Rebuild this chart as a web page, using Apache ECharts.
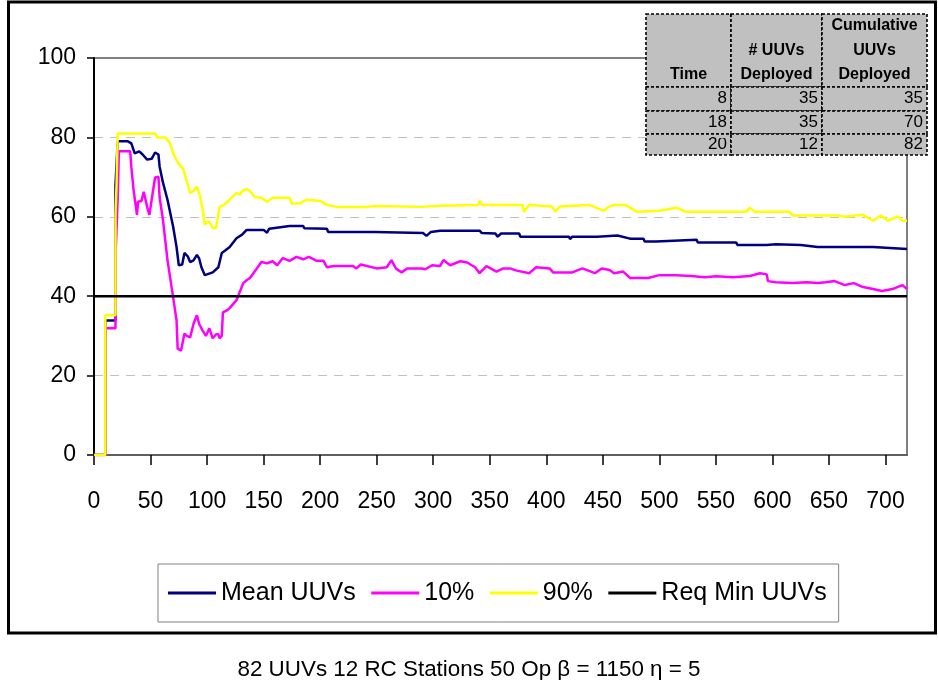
<!DOCTYPE html>
<html>
<head>
<meta charset="utf-8">
<script src="https://cdn.jsdelivr.net/npm/echarts@6.0.0/dist/echarts.min.js"></script>
<style>
html,body{margin:0;padding:0;background:#fff;}
#chart{width:938px;height:680px;}
</style>
</head>
<body>
<div id="chart"></div>
<script>
// ---- data ----
const seriesNames = ['Mean UUVs', '10%', '90%', 'Req Min UUVs'];
const xTicks = [0,50,100,150,200,250,300,350,400,450,500,550,600,650,700];
const yTicks = [0,20,40,60,80,100];

const meanUUVs = [[0,0],[10,0],[10,33.9],[19,33.9],[19,68],[21,79],[30,79],[33,78.5],[36,76],[40,76.5],[43,75.7],[47,74.4],[51,74.6],[54,76.2],[57,75.7],[58,72.7],[61,68.6],[65,64.3],[70,57.5],[73,52.4],[75,47.8],[78,48],[80,50.9],[83,50],[85,48.6],[88,49],[91,50.4],[93,49.5],[95,47.3],[98,45.3],[105,46],[110,47.3],[113,50.9],[116,51.5],[120,52.4],[126,54.6],[131,55.5],[135,56.7],[150,56.7],[151,57.2],[153,56.0],[155,57],[173,57.7],[185,57.7],[186,57.1],[206,57],[207,56.2],[248,56.2],[249,55.9],[291,55.9],[294,55.2],[298,56.2],[306,56.5],[341,56.5],[343,55.9],[355,55.8],[357,55],[360,55.8],[376,55.8],[377,55],[420,55],[421,54.4],[423,55],[445,55],[463,55.3],[464,55],[474,54.5],[486,54.5],[487,53.8],[497,53.8],[498,54.2],[533,54.2],[534,53.5],[568,53.5],[569,52.9],[595,52.9],[603,53.1],[625,52.9],[626,52.4],[640,52.4],[641,52.9],[642,52.4],[689,52.4],[690,51.9],[719,51.9]];

const p10UUVs = [[0,0],[10,0],[10,31.9],[19,31.9],[19,50],[21,65],[22,76.5],[32,76.5],[33,72.7],[35,66.8],[38,60.5],[39,63.8],[42,64],[44,66.3],[47,62.5],[49,60.5],[51,64.3],[54,69.9],[57,70.1],[58,65],[61,59.2],[65,49.1],[70,39.7],[73,33.9],[74,26.8],[77,26.3],[80,30.6],[82,30],[85,29.6],[88,33],[91,35.2],[93,33],[96,31.4],[99,30],[102,31.9],[105,29.4],[108,30.4],[110,30.4],[111,29.4],[113,30],[114,35.9],[118,36.5],[120,37],[126,39],[132,43.3],[135,44],[138,44.6],[144,47],[148,48.6],[153,48.3],[158,48.8],[162,47.8],[167,49.6],[173,48.9],[179,49.9],[185,49.3],[190,49.9],[197,48.9],[203,48.9],[206,47.3],[212,47.6],[229,47.6],[232,47],[236,48],[250,47],[259,47.3],[263,49.1],[267,47],[272,46],[277,47],[290,47],[293,46.8],[299,47.8],[306,47.6],[309,49.1],[315,47.8],[324,48.8],[330,48.5],[337,47.3],[341,45.8],[347,47.6],[356,46.2],[362,47],[368,47],[373,46.5],[385,45.8],[391,47.3],[403,47],[406,46],[423,46],[432,47],[443,45.8],[449,47],[456,46.6],[460,45.8],[468,46.2],[474,44.6],[490,44.6],[500,45.3],[515,45.3],[528,45.1],[540,44.8],[550,45],[565,44.8],[580,45.1],[589,45.8],[595,45.5],[596,43.8],[603,43.5],[618,43.3],[630,43.5],[640,43.3],[647,43.5],[655,43.8],[664,42.8],[672,43.3],[680,42.3],[689,41.8],[697,41.3],[706,41.8],[715,42.8],[719,41.8]];

const p90UUVs = [[0,0],[10,0],[10,35.2],[19,35.2],[19,60],[20,68.9],[21,81],[54,81],[56,80],[63,80],[67,78.7],[70,76],[74,73.7],[79,72],[82,69],[85,66],[88,66.5],[91,67.6],[94,65],[96,62],[98,58],[100,58.7],[102,58.7],[105,57.2],[108,57.2],[111,62.5],[115,63],[120,64.3],[126,66],[129,65.6],[131,66.5],[135,67],[138,66.5],[142,65],[148,64.8],[153,63.8],[158,64.8],[173,64.8],[175,63.3],[183,63.5],[188,64.3],[200,64],[206,63],[215,62.5],[241,62.5],[250,62.7],[290,62.5],[306,62.8],[340,63],[341,64],[343,63],[379,63],[380,61.3],[385,63],[405,62.6],[408,61.3],[412,62.6],[438,63],[451,61.5],[455,62.5],[460,63],[470,63],[480,61.3],[500,61.5],[515,62.3],[523,61.3],[577,61.3],[580,62.3],[584,61.3],[615,61.3],[618,60.3],[659,60.3],[664,60],[680,60.5],[689,59],[696,60.3],[702,59],[711,60.1],[715,59],[719,59]];

const reqMinUUVs = [[0,40],[719,40]];

// deployment table
const tableHeaders = [['Time'], ['# UUVs', 'Deployed'], ['Cumulative', 'UUVs', 'Deployed']];
const tableTimes = [8, 18, 20];
const tableDeployed = [35, 35, 12];
const tableCumulative = [35, 70, 82];

const titleText = '82 UUVs 12 RC Stations 50 Op \u03B2 = 1150 \u03B7 = 5';

// ---- build ----
const sans = "'Liberation Sans', Arial, sans-serif";

const chart = echarts.init(document.getElementById('chart'), null, {renderer: 'canvas'});

// table graphic
const tbl = {colEdges: [646, 731, 822, 927], rowEdges: [14, 87, 111, 134, 155]};
const tableChildren = [];
for (let r = 0; r < 4; r++) {
  for (let c = 0; c < 3; c++) {
    tableChildren.push({
      type: 'rect',
      shape: {x: tbl.colEdges[c], y: tbl.rowEdges[r], width: tbl.colEdges[c+1]-tbl.colEdges[c], height: tbl.rowEdges[r+1]-tbl.rowEdges[r]},
      style: {fill: '#c0c0c0', stroke: '#000', lineWidth: 1.6, lineDash: [3, 2]}
    });
  }
}
const headerLineY = [75, 51, 26];
tableHeaders.forEach((lines, c) => {
  const cx = (tbl.colEdges[c] + tbl.colEdges[c+1]) / 2;
  const n = lines.length;
  lines.forEach((t, i) => {
    tableChildren.push({
      type: 'text',
      style: {text: t, x: cx, y: headerLineY[n-1-i], align: 'center', verticalAlign: 'middle',
        font: 'bold 16px ' + sans, fill: '#000'}
    });
  });
});
const rowCols = [tableTimes, tableDeployed, tableCumulative];
const rowCenters = [98.5, 122, 144];
for (let r = 0; r < 3; r++) {
  for (let c = 0; c < 3; c++) {
    tableChildren.push({
      type: 'text',
      style: {text: String(rowCols[c][r]), x: tbl.colEdges[c+1] - 4, y: rowCenters[r], align: 'right', verticalAlign: 'middle',
        font: '17px ' + sans, fill: '#000'}
    });
  }
}

const option = {
  animation: false,
  backgroundColor: '#fff',
  title: {
    text: titleText,
    left: 'center',
    top: 654,
    textStyle: {fontFamily: sans, fontSize: 22.4, fontWeight: 'normal', color: '#000'}
  },
  legend: {
    data: seriesNames,
    left: 158,
    top: 564,
    padding: [12, 12, 12, 10],
    itemGap: 15.5,
    itemWidth: 48,
    itemHeight: 3,
    icon: 'rect',
    borderColor: '#808080',
    borderWidth: 1,
    textStyle: {fontFamily: sans, fontSize: 25, color: '#000', lineHeight: 34}
  },
  grid: {
    left: 94, top: 58, right: 31, bottom: 225,
    show: true, backgroundColor: '#fff', borderColor: '#808080', borderWidth: 2
  },
  xAxis: {
    type: 'value', min: 0, max: 719, interval: 50,
    axisLine: {show: true, lineStyle: {color: '#606060', width: 2}},
    axisTick: {show: true, length: 10, lineStyle: {color: '#000', width: 1.5}, customValues: xTicks},
    axisLabel: {fontFamily: sans, fontSize: 23, color: '#000', margin: 35, customValues: xTicks},
    splitLine: {show: false}
  },
  yAxis: {
    type: 'value', min: 0, max: 100, interval: 20,
    axisLine: {show: true, lineStyle: {color: '#000', width: 2}},
    axisTick: {show: true, length: 7, lineStyle: {color: '#000', width: 1.5}},
    axisLabel: {fontFamily: sans, fontSize: 23, color: '#000', margin: 18},
    splitLine: {show: true, showMinLine: false, showMaxLine: false, lineStyle: {color: '#c0c0c0', width: 1, type: [9, 7]}}
  },
  series: [
    {name: seriesNames[0], type: 'line', data: meanUUVs, showSymbol: false, symbol: 'none', color: '#000080', lineStyle: {width: 2.5, color: '#000080'}},
    {name: seriesNames[1], type: 'line', data: p10UUVs, showSymbol: false, symbol: 'none', color: '#ff00ff', lineStyle: {width: 2.5, color: '#ff00ff'}},
    {name: seriesNames[2], type: 'line', data: p90UUVs, showSymbol: false, symbol: 'none', color: '#ffff00', lineStyle: {width: 2.5, color: '#ffff00'}},
    {name: seriesNames[3], type: 'line', data: reqMinUUVs, showSymbol: false, symbol: 'none', color: '#000000', lineStyle: {width: 2.5, color: '#000000'}}
  ],
  graphic: [
    {type: 'rect', z: 100, silent: true, shape: {x: 8.5, y: 2, width: 927, height: 631},
      style: {fill: 'none', stroke: '#000', lineWidth: 3}},
    {type: 'group', z: 100, silent: true, children: tableChildren}
  ]
};
chart.setOption(option);
</script>
</body>
</html>
